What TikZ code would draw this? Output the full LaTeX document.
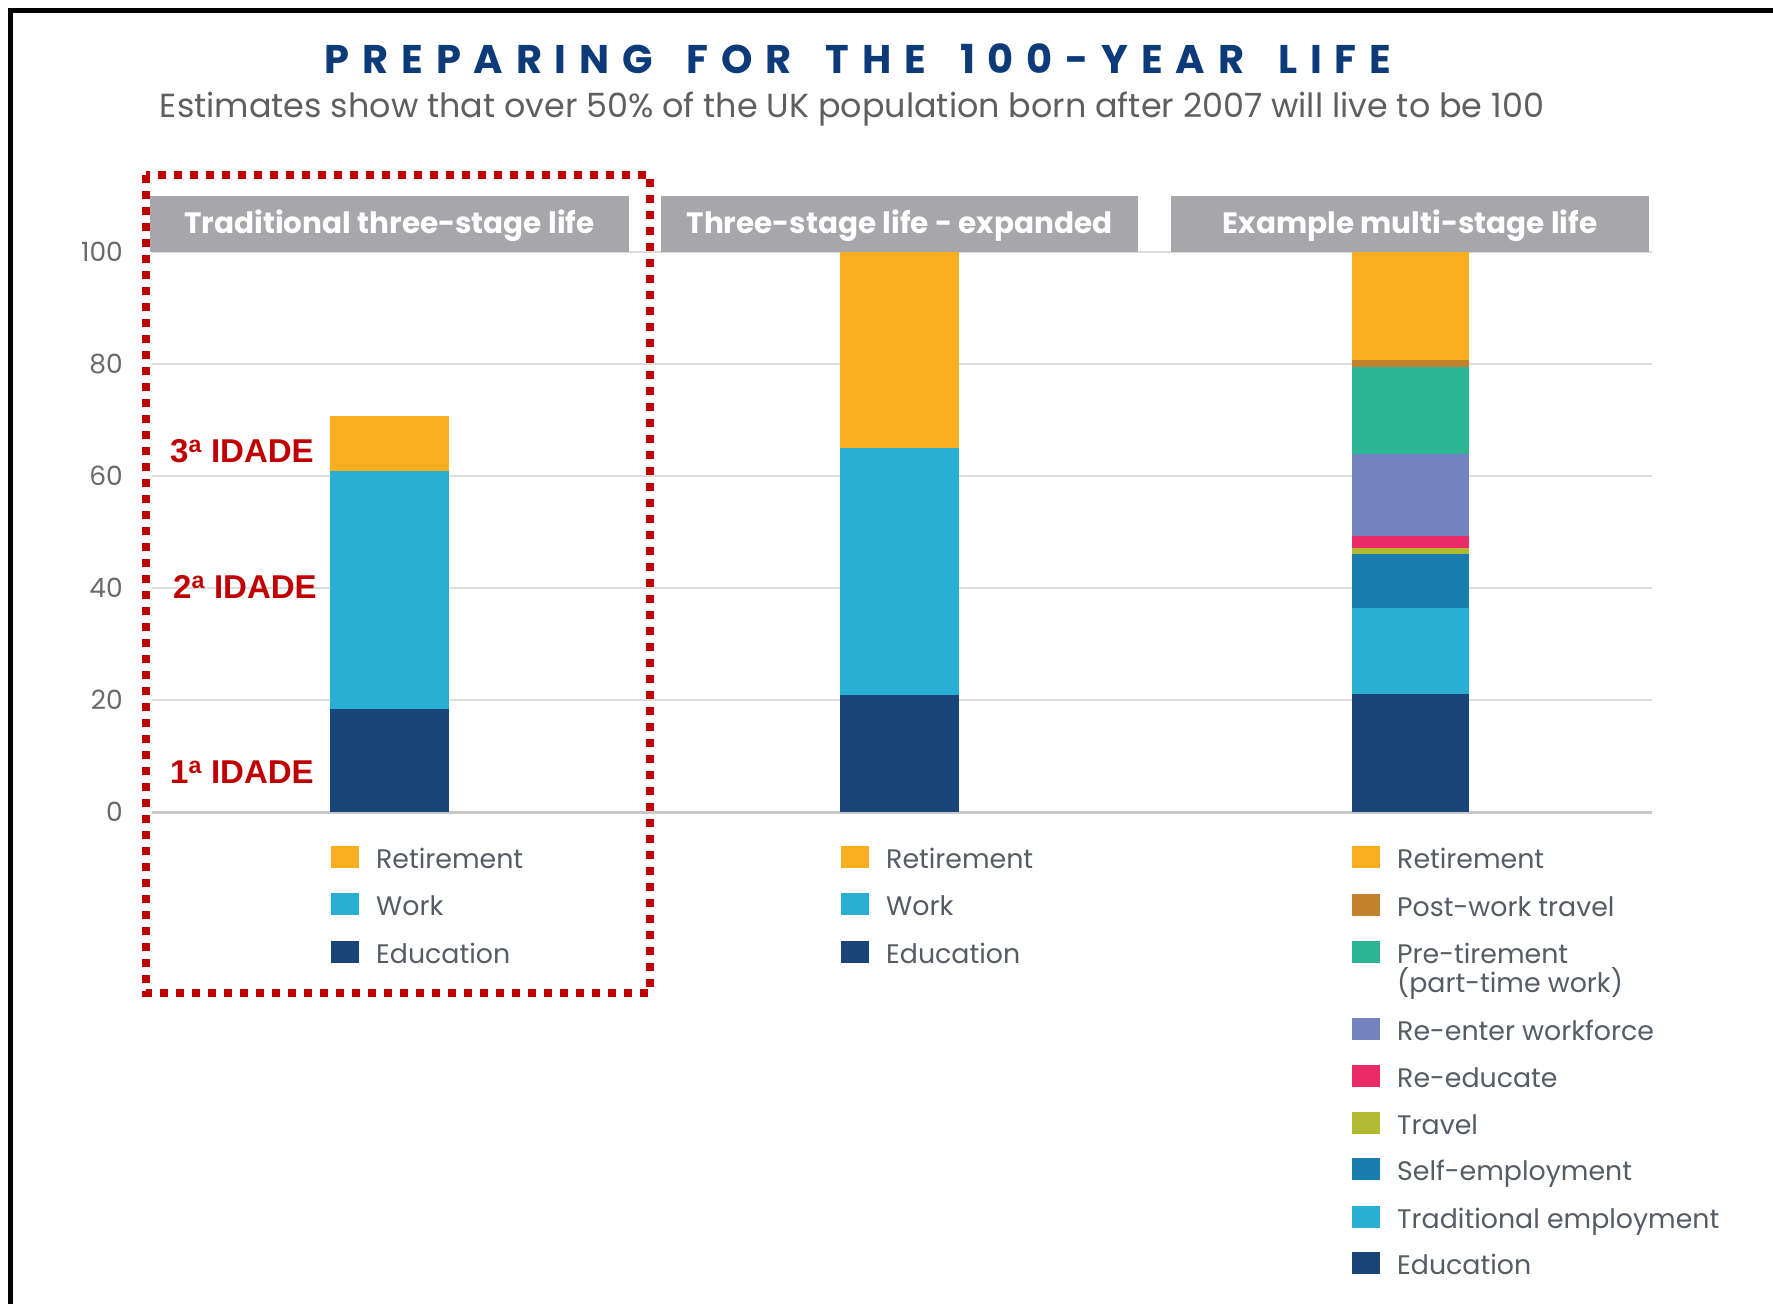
\documentclass[tikz,border=0pt]{standalone}
\usepackage{fontspec}
\setmainfont{Poppins}
\newfontfamily\redfont{Liberation Sans}
\newfontfamily\titlefont[LetterSpace=32,WordSpace=1.6]{Poppins}
\definecolor{titleblue}{HTML}{0D3B7A}
\definecolor{subgray}{HTML}{5F5F5F}
\definecolor{leggray}{HTML}{575C64}
\definecolor{axgray}{HTML}{6A6A6A}
\definecolor{headgray}{HTML}{A7A6AB}
\definecolor{gridgray}{HTML}{DCDCDC}
\definecolor{basegray}{HTML}{C8C8C8}
\definecolor{darkred}{HTML}{C00000}
\definecolor{cRet}{HTML}{F8AE1E}
\definecolor{cWork}{HTML}{29AED4}
\definecolor{cEdu}{HTML}{19457B}
\definecolor{cPost}{HTML}{C3812E}
\definecolor{cPre}{HTML}{2BB594}
\definecolor{cReen}{HTML}{7383C0}
\definecolor{cReed}{HTML}{EB2A68}
\definecolor{cTrav}{HTML}{B1BB32}
\definecolor{cSelf}{HTML}{187DAF}
\tikzset{
  titletext/.style={anchor=base,inner sep=0pt,text=titleblue,font=\titlefont\bfseries\fontsize{40}{42}\selectfont},
  subtext/.style={anchor=base,inner sep=0pt,text=subgray},
  headbox/.style={fill=headgray,draw=none},
  headtext/.style={anchor=base,inner sep=0pt,text=white,font=\bfseries\fontsize{29.5}{32}\selectfont},
  axlab/.style={anchor=base east,inner sep=0pt,text=axgray,font=\fontsize{26.5}{30}\selectfont},
  gridline/.style={draw=gridgray,line width=2.5pt},
  baseline0/.style={draw=basegray,line width=3pt},
  redlab/.style={anchor=base west,inner sep=0pt,text=darkred,font=\redfont\bfseries\fontsize{33}{36}\selectfont},
  legtext/.style={anchor=base west,inner sep=0pt,text=leggray,font=\fontsize{26.8}{30}\selectfont,align=left},
  redbox/.style={draw=darkred,line width=8pt,dash pattern=on 8pt off 8pt},
  frameline/.style={draw=black,line width=5pt}
}
\begin{document}
\begin{tikzpicture}[x=1pt,y=-1pt]
\useasboundingbox (0,0) rectangle (1773,1304);
\fill[white] (0,0) rectangle (1773,1304);
% frame
\draw[frameline] (10.5,1304) -- (10.5,10.5) -- (1773,10.5);
% title
\node[titletext] (title) at (858,73) {PREPARING FOR THE 100-YEAR LIFE};
\node[subtext] (sub) at (852,117) {\resizebox{1384pt}{!}{Estimates show that over 50\% of the UK population born after 2007 will live to be 100}};
% gridlines
\foreach \v in {20,40,60,80,100}{
  \draw[gridline] (152,{812-5.6*\v}) -- (1652,{812-5.6*\v});
}
\draw[baseline0] (152,812) -- (1652,812);
% axis labels
\foreach \v/\n in {0/l0,20/l20,40/l40,60/l60,80/l80,100/l100}{
  \node[axlab] (\n) at (123,{812-5.6*\v+9}) {\v};
}
% header boxes
\fill[headbox] (150,196) rectangle (629,252);
\fill[headbox] (661,196) rectangle (1138,252);
\fill[headbox] (1171,196) rectangle (1649,252);
\node[headtext] (h1) at (389.5,233) {Traditional three-stage life};
\node[headtext] (h2) at (899.5,233) {Three-stage life - expanded};
\node[headtext] (h3) at (1410,233) {Example multi-stage life};
% bar 1
\fill[cEdu]  (330,812) rectangle (449,{812-5.6*18.4});
\fill[cWork] (330,{812-5.6*18.4}) rectangle (449,{812-5.6*60.9});
\fill[cRet]  (330,{812-5.6*60.9}) rectangle (449,{812-5.6*70.7});
% bar 2
\fill[cEdu]  (840,812) rectangle (959,{812-5.6*20.9});
\fill[cWork] (840,{812-5.6*20.9}) rectangle (959,{812-5.6*65});
\fill[cRet]  (840,{812-5.6*65}) rectangle (959,{812-5.6*100});
% bar 3
\fill[cEdu]  (1352,812) rectangle (1469,{812-5.6*21});
\fill[cWork] (1352,{812-5.6*21}) rectangle (1469,{812-5.6*36.5});
\fill[cSelf] (1352,{812-5.6*36.5}) rectangle (1469,{812-5.6*46.0});
\fill[cTrav] (1352,{812-5.6*46.0}) rectangle (1469,{812-5.6*47.2});
\fill[cReed] (1352,{812-5.6*47.2}) rectangle (1469,{812-5.6*49.25});
\fill[cReen] (1352,{812-5.6*49.25}) rectangle (1469,{812-5.6*64.0});
\fill[cPre]  (1352,{812-5.6*64.0}) rectangle (1469,{812-5.6*79.4});
\fill[cPost] (1352,{812-5.6*79.4}) rectangle (1469,{812-5.6*80.8});
\fill[cRet]  (1352,{812-5.6*80.8}) rectangle (1469,{812-5.6*100});
% red labels
\node[redlab] (r3) at (170,462) {3\textsuperscript{a} IDADE};
\node[redlab] (r2) at (173,598) {2\textsuperscript{a} IDADE};
\node[redlab] (r1) at (170,783) {1\textsuperscript{a} IDADE};
% legend 1
\foreach \c/\t/\yy/\n in {cRet/Retirement/868/a1,cWork/Work/915/a2,cEdu/Education/963/a3}{
  \fill[\c] (331,\yy-22) rectangle (359,\yy);
  \node[legtext] (\n) at (376,\yy) {\t};
}
% legend 2
\foreach \c/\t/\yy/\n in {cRet/Retirement/868/b1,cWork/Work/915/b2,cEdu/Education/963/b3}{
  \fill[\c] (841,\yy-22) rectangle (869,\yy);
  \node[legtext] (\n) at (886,\yy) {\t};
}
% legend 3
\foreach \c/\t/\yy/\n in {cRet/Retirement/868/c1,cPost/Post-work travel/916/c2,cPre/Pre-tirement/963/c3,cReen/Re-enter workforce/1040/c4,cReed/Re-educate/1087/c5,cTrav/Travel/1134/c6,cSelf/Self-employment/1180/c7,cWork/Traditional employment/1228/c8,cEdu/Education/1274/c9}{
  \fill[\c] (1352,\yy-22) rectangle (1380,\yy);
  \node[legtext] (\n) at (1397,\yy) {\t};
}
\node[legtext] (c3b) at (1397,992) {(part-time work)};
% red dotted box
\draw[redbox] (146,175) rectangle (650,993);
\end{tikzpicture}
\end{document}
